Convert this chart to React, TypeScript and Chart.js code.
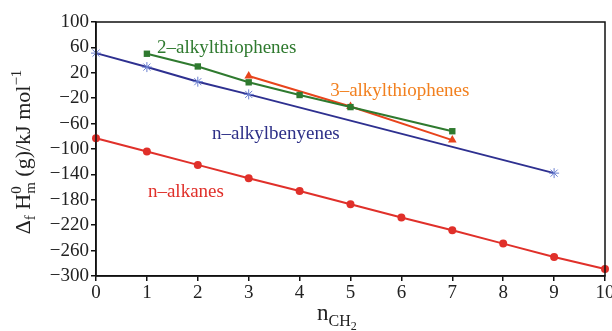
import React, { useEffect, useRef } from "react";
import { Chart, registerables } from "chart.js";

Chart.register(...registerables);

const alkaneX = [0, 1, 2, 3, 4, 5, 6, 7, 8, 9, 10];
const alkaneY = [-83, -104, -125, -146, -166, -187, -208, -228, -249, -270, -289];
const benzeneX = [0, 1, 2, 3, 9];
const benzeneY = [51, 29, 6, -14, -138];
const thio2X = [1, 2, 3, 4, 5, 7];
const thio2Y = [50, 30, 5, -15, -34, -72];
const thio3X = [3, 5, 7];
const thio3Y = [15, -33, -86];

const labelTexts = ["2–alkylthiophenes", "3–alkylthiophenes", "n–alkylbenyenes", "n–alkanes"];
const labelX = [1.2, 4.6, 2.28, 1.02];
const labelY = [51, -16.5, -84, -175.5];
const labelColors = ["#2f7a2f", "#f2801f", "#2e3088", "#e0302a"];

const FONT = '"Liberation Serif", "DejaVu Serif", serif';

function pts(xs: number[], ys: number[]) {
  return xs.map((x, i) => ({ x, y: ys[i] }));
}

const overlay = {
  id: "overlay",
  afterDraw(chart: any) {
    const { ctx, chartArea, scales } = chart;
    ctx.save();
    ctx.strokeStyle = "#111";
    ctx.lineWidth = 1.5;
    ctx.strokeRect(chartArea.left, chartArea.top, chartArea.right - chartArea.left, chartArea.bottom - chartArea.top);

    ctx.font = `19px ${FONT}`;
    ctx.textBaseline = "alphabetic";
    ctx.textAlign = "left";
    labelTexts.forEach((t, i) => {
      ctx.fillStyle = labelColors[i];
      ctx.fillText(t, scales.x.getPixelForValue(labelX[i]), scales.y.getPixelForValue(labelY[i]));
    });

    ctx.fillStyle = "#222";
    let x = 317;
    const by = 320;
    ctx.font = `23px ${FONT}`;
    ctx.fillText("n", x, by);
    x += ctx.measureText("n").width;
    ctx.font = `16px ${FONT}`;
    ctx.fillText("CH", x, by + 6);
    x += ctx.measureText("CH").width;
    ctx.font = `12px ${FONT}`;
    ctx.fillText("2", x, by + 10);

    ctx.translate(30, 152);
    ctx.rotate(-Math.PI / 2);
    const s = 22;
    const sub = 15;
    const segs: any[] = [
      { t: "Δ", f: s, dy: 0 },
      { t: "f", f: sub, dy: 5 },
      { t: " H", f: s, dy: 0 },
      { stack: ["0", "m"], f: sub },
      { t: " (g)/kJ mol", f: s, dy: 0 },
      { t: "−1", f: sub, dy: -9 },
    ];
    let total = 0;
    segs.forEach((sg) => {
      ctx.font = `${sg.f}px ${FONT}`;
      if (sg.stack) {
        sg.w = Math.max(ctx.measureText(sg.stack[0]).width, ctx.measureText(sg.stack[1]).width);
      } else sg.w = ctx.measureText(sg.t).width;
      total += sg.w;
    });
    let cx = -total / 2;
    segs.forEach((sg) => {
      ctx.font = `${sg.f}px ${FONT}`;
      if (sg.stack) {
        ctx.fillText(sg.stack[0], cx, -9);
        ctx.fillText(sg.stack[1], cx, 5);
      } else ctx.fillText(sg.t, cx, sg.dy);
      cx += sg.w;
    });
    ctx.restore();
  },
};

export default function App() {
  const ref = useRef<HTMLCanvasElement>(null);
  useEffect(() => {
    document.body.style.margin = "0";
    const chart = new Chart(ref.current!, {
      type: "scatter",
      data: {
        datasets: [
          {
            label: "n-alkanes",
            data: pts(alkaneX, alkaneY),
            showLine: true,
            clip: false,
            borderColor: "#e0302a",
            backgroundColor: "#e0302a",
            borderWidth: 2,
            pointStyle: "circle",
            pointRadius: 4,
            pointBorderWidth: 0,
          },
          {
            label: "n-alkylbenzenes",
            data: pts(benzeneX, benzeneY),
            showLine: true,
            clip: false,
            borderColor: "#2e3090",
            backgroundColor: "#2e3090",
            pointBorderColor: "#6a7fd0",
            borderWidth: 2,
            pointStyle: "star",
            pointRadius: 5,
            pointBorderWidth: 1,
          },
          {
            label: "2-alkylthiophenes",
            data: pts(thio2X, thio2Y),
            showLine: true,
            clip: false,
            borderColor: "#2f7a2f",
            backgroundColor: "#2f7a2f",
            borderWidth: 2,
            pointStyle: "rect",
            pointRadius: 4.5,
            pointBorderWidth: 0,
          },
          {
            label: "3-alkylthiophenes",
            data: pts(thio3X, thio3Y),
            showLine: true,
            clip: false,
            borderColor: "#e8441c",
            backgroundColor: "#e8441c",
            borderWidth: 2,
            pointStyle: "triangle",
            pointRadius: 5,
            pointBorderWidth: 0,
          },
        ],
      },
      options: {
        responsive: false,
        animation: false,
        devicePixelRatio: 1,
        layout: { padding: { top: 22, right: 7, bottom: 0, left: 0 } },
        plugins: { legend: { display: false }, tooltip: { enabled: false } },
        scales: {
          x: {
            type: "linear",
            min: 0,
            max: 10,
            ticks: { stepSize: 1, autoSkip: false, maxRotation: 0, color: "#222", font: { family: FONT, size: 19 }, padding: 1 },
            grid: { drawOnChartArea: false, drawTicks: true, tickLength: 5, color: "#111", lineWidth: 1.5 },
            border: { display: true, color: "#111", width: 1.5 },
            afterFit: (sc: any) => {
              sc.height = 55;
              sc.paddingLeft = 0;
              sc.paddingRight = 0;
            },
          },
          y: {
            type: "linear",
            min: -300,
            max: 100,
            ticks: {
              stepSize: 40,
              autoSkip: false,
              color: "#222",
              font: { family: FONT, size: 19 },
              padding: 2,
              callback: (v: any) => (v < 0 ? "−" + Math.abs(v) : String(v)),
            },
            grid: { drawOnChartArea: false, drawTicks: true, tickLength: 5, color: "#111", lineWidth: 1.5 },
            border: { display: true, color: "#111", width: 1.5 },
            afterFit: (sc: any) => {
              sc.width = 96;
              sc.paddingTop = 0;
              sc.paddingBottom = 0;
            },
          },
        },
      },
      plugins: [overlay],
    });
    return () => chart.destroy();
  }, []);
  return <canvas ref={ref} width={612} height={331} style={{ display: "block" }} />;
}
